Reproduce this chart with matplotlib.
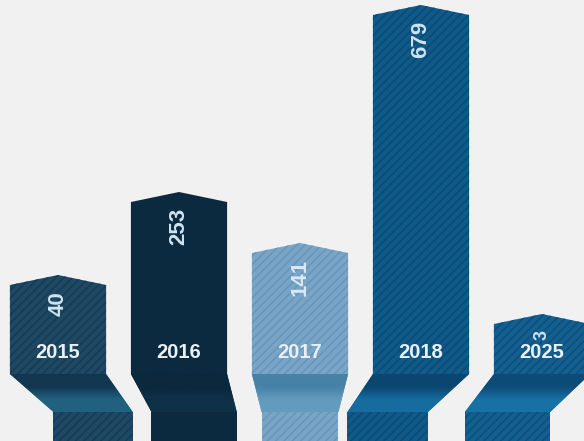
import numpy as np
import matplotlib
matplotlib.use('Agg')
import matplotlib.pyplot as plt
from matplotlib.patches import Polygon
from matplotlib.colors import LinearSegmentedColormap

# data
years = ['2015', '2016', '2017', '2018', '2025']
values = [40, 253, 141, 679, 3]
# drawn heights of the bars (the picture is not to scale)
bar_heights = [89, 172, 121, 359, 50]

# styling per bar
fills = ['#1e4964', '#0c2a3f', '#79a6c7', '#105a89', '#135f90']
stripes = ['#163a51', '#0c2a3f', '#6896b9', '#0b4a74', '#0d4f7b']
fold_top = ['#133750', '#0b283c', '#4782a6', '#0b4670', '#0d4b78']
fold_mid = ['#206180', '#0f3148', '#629bbe', '#166c9e', '#1771a4']
fold_left = [0.36, 0.17, 0.08, -0.21, -0.24]
fold_right = [0.22, 0.08, -0.08, -0.34, -0.33]
value_sizes = [16, 16, 16, 16, 13]
value_colors = ['#cfe3f0', '#cfe3f0', '#d8e8f4', '#cfe3f0', '#cfe3f0']

plt.rcParams['hatch.linewidth'] = 1.1
font = ['Liberation Sans', 'DejaVu Sans']

fig = plt.figure(figsize=(5.84, 4.41), dpi=100, facecolor='#f1f1f1')
ax = fig.add_axes([0, 0, 1, 1])
ax.set_facecolor('#f1f1f1')

width = 0.795
peak = 10
fold_depth = 38
bottom = -67

for i in range(len(years)):
    h = bar_heights[i]
    l = i - width / 2
    r = i + width / 2
    hatch = '////' if i != 1 else None

    upper = Polygon([(l, 0), (l, h), (i, h + peak), (r, h), (r, 0)],
                    closed=True, facecolor=fills[i], edgecolor=stripes[i],
                    linewidth=0, hatch=hatch, zorder=2)
    ax.add_patch(upper)

    l2 = l + fold_left[i]
    r2 = r + fold_right[i]
    fold = Polygon([(l, 0), (r, 0), (r2, -fold_depth), (l2, -fold_depth)],
                   closed=True, facecolor=fold_mid[i], linewidth=0, zorder=2)
    ax.add_patch(fold)
    cmap = LinearSegmentedColormap.from_list(
        'f%d' % i, [fold_top[i], fold_top[i], fold_mid[i], fold_mid[i]])
    grad = np.linspace(0, 1, 64).reshape(-1, 1)
    im = ax.imshow(grad, cmap=cmap, aspect='auto', origin='upper',
                   extent=[min(l, l2), max(r, r2), -fold_depth, 0], zorder=3)
    im.set_clip_path(fold)

    lower = Polygon([(l2, -fold_depth), (r2, -fold_depth), (r2, bottom - 5), (l2, bottom - 5)],
                    closed=True, facecolor=fills[i], edgecolor=stripes[i],
                    linewidth=0, hatch=hatch, zorder=2)
    ax.add_patch(lower)

    ax.text(i, h - 6, str(values[i]), rotation=90, ha='center', va='top',
            fontsize=value_sizes[i], fontweight='bold', color=value_colors[i],
            family=font, zorder=5)
    ax.text(i, 21, years[i], ha='center', va='center', fontsize=14.5,
            fontweight='bold', color='#e9eff4', family=font, zorder=5)

ax.set_xlim(-58 / 121, 526 / 121)
ax.set_ylim(bottom, 374)
ax.axis('off')

plt.savefig('out.png', dpi=100, facecolor='#f1f1f1')
